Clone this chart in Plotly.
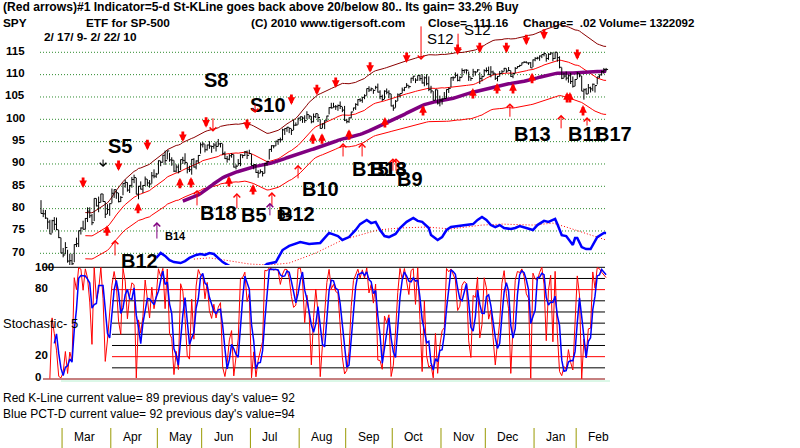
import plotly.graph_objects as go
import pandas as pd
import numpy as np

W, H = 800, 448

# ---------------- data ----------------
holidays = ["2009-04-10", "2009-05-25", "2009-07-03", "2009-09-07", "2009-11-26",
            "2009-12-25", "2010-01-01", "2010-01-18", "2010-02-15"]
dates = pd.bdate_range("2009-02-17", "2010-02-22", freq="C", holidays=holidays)

close = [
    78.92, 78.84, 77.89, 77.01, 74.33, 77.31, 76.49, 75.28, 73.51,
    70.08, 69.63, 71.29, 68.26, 68.34, 67.65, 71.96, 72.14, 75.07, 75.66, 75.39, 77.81, 79.44, 78.40, 76.85, 82.29, 80.61, 81.39, 83.29, 81.59, 78.75, 79.79,
    81.11, 83.44, 84.25, 83.55, 81.56, 82.52, 85.66, 85.87, 84.15, 85.21, 86.53, 86.96, 83.24, 85.01, 84.36, 85.19, 86.62, 85.75, 85.52, 87.36, 87.28,
    87.75, 90.72, 90.38, 91.95, 90.74, 92.92, 90.92, 90.84, 88.39, 89.31, 88.29, 90.97, 90.81, 90.35, 88.83, 88.70, 91.03, 89.31, 90.68, 91.91,
    94.29, 94.47, 93.18, 94.25, 94.01, 93.91, 94.24, 93.92, 94.49, 94.62, 92.37, 91.20, 91.07, 91.84, 92.12, 89.30, 89.51, 90.09, 92.03, 91.89, 92.72, 91.93,
    92.33, 89.64, 89.87, 88.10, 87.96, 88.27, 87.91, 90.11, 90.58, 93.27, 94.07, 94.04, 95.11, 95.46, 95.41, 97.63, 97.93, 98.22, 97.96, 97.52, 98.68, 98.75,
    100.26, 100.57, 100.27, 99.71, 101.05, 100.71, 99.44, 100.58, 101.27, 100.41, 97.97, 98.97, 99.65, 100.74, 102.61, 102.56, 102.80, 102.81, 103.10, 102.89, 102.06,
    99.80, 99.48, 100.32, 101.64, 102.54, 103.34, 104.41, 104.27, 104.93, 105.26, 106.88, 106.55, 106.83, 106.47, 107.17, 106.09, 105.08, 104.44, 106.30, 106.06, 105.71,
    102.99, 102.52, 104.05, 105.47, 105.76, 106.55, 107.15, 107.62, 107.32, 109.20, 109.66, 108.77, 109.79, 109.11, 108.14, 109.29, 107.96, 106.70, 106.34, 104.26, 106.61, 103.62,
    104.29, 104.54, 104.65, 106.66, 106.93, 109.31, 109.30, 109.85, 108.72, 109.35, 110.93, 111.03, 110.98, 109.49, 109.14, 110.62, 110.57, 111.06, 109.15, 109.56,
    110.89, 110.92, 109.99, 110.60, 110.33, 109.19, 109.60, 110.24, 110.64, 111.41, 110.79, 110.92, 109.61, 110.25, 111.41, 111.80, 112.06, 112.65, 112.78, 112.62, 112.64, 111.51,
    113.30, 113.65, 113.71, 114.17, 114.50, 114.70, 113.62, 114.57, 114.85, 113.60, 115.02, 113.80, 111.65, 109.18, 109.68, 109.22, 109.75, 108.45, 107.39,
    108.92, 110.33, 109.73, 106.31, 106.62, 105.67, 107.05, 106.81, 107.85, 107.55, 109.49, 109.95, 110.68, 111.14, 111.16,
]
high = [
    81.9, 79.8, 79.7, 77.9, 77.5, 77.5, 78.1, 78.0, 75.2,
    73.5, 71.2, 72.5, 70.8, 69.9, 69.9, 72.0, 73.5, 75.1, 75.8, 77.3, 77.9, 80.3, 80.3, 78.8, 82.3, 82.3, 82.7, 83.3, 83.3, 81.6, 81.0,
    81.2, 84.5, 84.3, 84.2, 83.5, 82.8, 85.7, 86.5, 85.9, 85.3, 87.1, 87.6, 86.9, 85.1, 86.1, 85.3, 87.2, 86.6, 86.4, 88.2, 88.8,
    88.0, 90.8, 90.7, 92.0, 93.0, 93.0, 92.5, 91.5, 90.8, 89.9, 89.9, 91.0, 91.6, 92.4, 90.3, 89.6, 91.1, 91.3, 90.8, 92.0,
    94.8, 94.9, 94.4, 94.3, 95.1, 94.1, 94.7, 95.0, 95.6, 94.7, 94.5, 92.8, 91.8, 92.2, 92.4, 92.1, 89.9, 91.1, 92.2, 92.1, 92.9, 93.0,
    93.2, 92.2, 89.9, 89.9, 88.6, 88.8, 88.4, 90.2, 90.7, 93.3, 94.2, 94.2, 95.2, 95.6, 95.9, 97.9, 98.0, 98.3, 98.2, 97.9, 99.9, 99.3,
    100.3, 100.6, 100.6, 100.9, 101.8, 101.0, 100.7, 101.3, 101.3, 101.2, 100.0, 99.1, 99.8, 100.8, 102.7, 103.7, 103.7, 103.2, 103.3, 104.0, 102.8,
    103.0, 100.0, 100.4, 101.7, 102.6, 103.6, 104.5, 104.7, 105.0, 105.6, 106.9, 107.4, 107.1, 106.7, 107.5, 108.0, 106.5, 105.5, 106.5, 106.9, 106.5,
    105.7, 103.3, 104.3, 105.8, 105.8, 107.1, 107.2, 108.1, 107.6, 109.3, 109.7, 109.2, 109.8, 110.0, 110.1, 109.6, 110.1, 109.6, 107.5, 106.3, 106.7, 106.6,
    105.3, 104.7, 106.1, 106.7, 107.1, 109.4, 109.6, 110.5, 110.2, 109.6, 111.4, 111.1, 111.2, 110.7, 109.4, 111.3, 110.8, 111.2, 110.5, 109.8,
    111.2, 111.6, 111.8, 111.9, 110.9, 110.3, 109.7, 110.8, 111.0, 111.5, 111.4, 111.7, 110.9, 110.3, 111.7, 111.9, 112.2, 112.7, 113.0, 113.0, 112.7, 112.8,
    113.4, 113.9, 114.0, 114.3, 114.5, 115.0, 114.6, 114.8, 115.0, 114.9, 115.1, 115.0, 114.1, 111.6, 110.4, 110.7, 110.0, 110.4, 109.6,
    109.0, 110.6, 110.3, 109.7, 106.9, 107.0, 107.9, 107.3, 108.0, 107.6, 109.5, 110.0, 110.9, 111.5, 111.5,
]
low = [
    78.9, 78.1, 77.7, 75.4, 74.3, 74.5, 75.2, 75.2, 73.4,
    70.0, 69.1, 69.8, 67.9, 66.7, 67.2, 68.0, 71.4, 71.4, 74.2, 75.3, 75.3, 77.0, 77.9, 76.3, 77.2, 80.5, 79.2, 81.4, 81.5, 77.9, 78.8,
    78.4, 81.2, 82.4, 82.2, 81.4, 81.5, 83.0, 84.7, 83.8, 83.5, 84.7, 85.7, 83.2, 82.1, 84.3, 83.5, 85.1, 85.0, 84.7, 85.6, 86.8,
    86.9, 87.8, 89.5, 90.3, 89.8, 91.0, 90.5, 89.6, 88.2, 88.1, 87.9, 88.6, 90.0, 89.9, 87.9, 88.2, 87.6, 89.2, 88.8, 90.1,
    92.3, 93.7, 92.6, 93.0, 93.4, 92.5, 93.4, 92.8, 93.9, 93.7, 92.0, 91.1, 90.3, 90.8, 91.4, 89.2, 88.8, 89.6, 89.5, 91.3, 91.8, 91.1,
    92.2, 89.6, 88.8, 88.0, 86.9, 87.9, 87.2, 87.9, 89.6, 91.0, 92.7, 93.5, 94.0, 94.3, 94.8, 95.3, 96.5, 97.2, 96.9, 96.5, 97.6, 98.5,
    98.8, 99.6, 99.2, 99.2, 100.0, 100.1, 99.1, 99.3, 100.3, 99.4, 97.9, 98.0, 97.8, 99.6, 101.1, 102.4, 102.6, 102.1, 101.9, 102.3, 101.6,
    99.6, 99.1, 99.2, 100.2, 101.9, 102.1, 103.0, 103.9, 103.7, 104.5, 105.3, 106.1, 106.3, 105.7, 106.7, 106.0, 104.5, 104.1, 104.5, 105.6, 104.7,
    102.9, 101.9, 102.6, 104.1, 104.9, 105.8, 106.3, 107.1, 106.9, 108.1, 108.6, 108.1, 108.6, 108.6, 108.0, 107.4, 107.6, 106.3, 105.8, 104.2, 104.3, 103.3,
    102.9, 103.3, 104.6, 104.7, 105.9, 107.2, 108.6, 109.3, 108.5, 108.5, 109.4, 110.3, 110.2, 108.6, 108.6, 109.5, 109.8, 110.6, 107.9, 108.5,
    109.6, 110.5, 109.9, 109.4, 109.9, 108.8, 108.5, 109.6, 110.2, 110.7, 110.4, 110.8, 109.5, 109.2, 110.3, 111.4, 111.7, 112.1, 112.6, 112.6, 112.2, 111.5,
    111.7, 113.0, 113.4, 113.1, 113.7, 114.1, 112.9, 113.3, 114.4, 113.0, 113.5, 112.9, 111.4, 109.0, 109.2, 108.7, 108.2, 107.9, 107.1,
    107.4, 109.0, 109.4, 106.3, 104.4, 105.6, 105.7, 106.0, 106.3, 106.0, 107.8, 109.2, 109.8, 110.2, 110.7,
]

# blue strength line (0-100 panel scale) and its red dotted average, by trading-day index
blue_idx = [52, 54, 56, 58, 60, 63, 65, 67, 70, 72, 74, 76, 78, 79, 81, 82, 90, 97, 102, 106,
            109, 112, 117, 121, 126, 128, 130, 134, 136, 139, 142, 144, 147, 149, 151, 153, 155, 157, 160, 162,
            165, 168, 170, 172, 175, 176, 179, 181, 183, 185, 188, 192, 195, 197, 199, 201, 203, 205, 207, 209,
            212, 214, 216, 219, 222, 224, 227, 229, 231, 232, 233, 235, 237, 240, 241, 242, 244, 246, 248, 250,
            251, 254, 255]
blue_val = [2.9, 4.9, 3.7, 2.0, 1.2, 0.8, 1.6, 2.9, 4.1, 4.5, 4.1, 4.9, 4.5, 3.7, 2.4, 1.2, -3.0, -3.0, 0.4, 1.2,
            6.1, 7.8, 9.4, 8.6, 9.0, 11.0, 13.1, 11.8, 10.2, 11.4, 14.3, 16.7, 18.4, 17.1, 17.6, 14.3, 11.8, 11.4, 12.7, 15.1,
            17.6, 19.2, 18.0, 17.6, 15.1, 12.2, 10.2, 11.4, 14.3, 15.5, 15.9, 16.3, 16.7, 18.4, 19.6, 18.4, 16.3, 15.5, 16.3, 15.1,
            14.7, 15.1, 15.9, 15.1, 14.3, 16.3, 18.0, 17.6, 18.4, 18.8, 16.7, 12.2, 11.8, 8.2, 11.0, 11.0, 7.3, 6.5, 6.5, 9.4,
            11.4, 13.1, 13.1]
dot_idx = [69, 76, 83, 94, 103, 112, 124, 136, 152, 162, 174, 185, 199, 208, 222, 231, 237, 245, 255]
dot_val = [2.4, 2.9, 2.0, 0.4, 0.0, 0.8, 4.9, 10.2, 14.3, 15.1, 15.5, 14.7, 16.3, 16.7, 16.3, 17.1, 15.5, 13.1, 10.2]

price_ticks = [115, 110, 105, 100, 95, 90, 85, 80, 75, 70]

# ---------------- derived series ----------------
n = len(close)
assert n == len(high) == len(low) == len(dates)
idx = list(range(n))
c = pd.Series(close)
ma21 = c.rolling(21).mean()
ma65 = c.rolling(65).mean()
upper = ma21 * 1.07
lower = ma21 * 0.93
hh = pd.Series(high).rolling(5).max()
ll = pd.Series(low).rolling(5).min()
kline = 100 * (c - ll) / (hh - ll)
pctd = kline.rolling(3).mean()

# ---------------- geometry ----------------
X0, DX = 41.0, 2.216          # pixel of first bar, pixels per bar
def xi(px):                    # pixel -> bar index (for layout decorations)
    return (px - X0) / DX
XR = [xi(0), xi(W)]
PY_TOP, PY_BOT = 20, 265
def pd_(y): return 1 - y / H
P_RANGE = [115 - (PY_BOT - 52.3) / 4.467, 115 + (52.3 - PY_TOP) / 4.467]
S_RANGE = [-(382 - 379) / 1.117, 100 + (267.3 - 262) / 1.117]

FONT = "Liberation Sans, Arial, sans-serif"

fig = go.Figure()

# bands and averages
fig.add_trace(go.Scatter(x=idx, y=upper, mode="lines", line=dict(color="#8b0000", width=1), yaxis="y"))
fig.add_trace(go.Scatter(x=idx, y=ma21, mode="lines", line=dict(color="#ff0000", width=1), yaxis="y"))
fig.add_trace(go.Scatter(x=idx, y=lower, mode="lines", line=dict(color="#ff0000", width=1), yaxis="y"))
fig.add_trace(go.Scatter(x=idx, y=ma65, mode="lines", line=dict(color="#800080", width=3.5), yaxis="y"))

# HLC bars
bx, by, tx, ty = [], [], [], []
for i in idx:
    bx += [i, i, None]; by += [low[i], high[i], None]
    tx += [i, i + 0.9, None]; ty += [close[i], close[i], None]
fig.add_trace(go.Scatter(x=bx, y=by, mode="lines", line=dict(color="black", width=1), yaxis="y"))
fig.add_trace(go.Scatter(x=tx, y=ty, mode="lines", line=dict(color="black", width=1), yaxis="y"))

# strength line overlay
fig.add_trace(go.Scatter(x=dot_idx, y=dot_val, mode="lines", line=dict(color="#ff0000", width=1, dash="1px,2px"), yaxis="y3"))
fig.add_trace(go.Scatter(x=blue_idx, y=blue_val, mode="lines", line=dict(color="#0000ff", width=2.5), yaxis="y3"))

# stochastic
fig.add_trace(go.Scatter(x=idx, y=kline, mode="lines", line=dict(color="#ff0000", width=1), yaxis="y2"))
fig.add_trace(go.Scatter(x=idx, y=pctd, mode="lines", line=dict(color="#0000ff", width=1.5), yaxis="y2"))

shapes = []
# price grid
for t in price_ticks:
    shapes.append(dict(type="line", xref="x", yref="y", x0=xi(40), x1=xi(607), y0=t, y1=t,
                       line=dict(color="#2e8b2e", width=1, dash="1px,2px"), layer="below"))
# stochastic levels
for lvl, col, start in [(100, "black", 43), (90, "black", 112), (80, "red", 112), (70, "black", 112),
                        (60, "black", 112), (50, "black", 112), (40, "black", 112), (30, "black", 112),
                        (20, "red", 112), (10, "black", 112), (0, "#8b0000", 43)]:
    shapes.append(dict(type="line", xref="x", yref="y2", x0=xi(start), x1=xi(605), y0=lvl, y1=lvl,
                       line=dict(color=col, width=1), layer="below"))
shapes.append(dict(type="line", xref="x", yref="paper", x0=xi(61), x1=xi(610), y0=pd_(381), y1=pd_(381),
                   line=dict(color="#b8f0d0", width=1)))
# month separators
month_starts = [i for i in range(1, n) if dates[i].month != dates[i - 1].month]
for ms in month_starts:
    shapes.append(dict(type="line", xref="x", yref="paper", x0=ms + 0.5, x1=ms + 0.5,
                       y0=pd_(448), y1=pd_(428), line=dict(color="#999900", width=1)))

ann = []
def txt(s, x, y, size=11.5, bold=True, anchor="left", color="black"):
    ann.append(dict(text=("<b>%s</b>" % s) if bold else s, x=x / W, y=pd_(y), xref="paper", yref="paper",
                    xanchor=anchor, yanchor="middle", showarrow=False,
                    font=dict(family=FONT, size=size, color=color)))

# headers
txt("(Red arrows)#1 Indicator=5-d St-KLine goes back above 20/below 80.. Its gain= 33.2% Buy", 1, 7, 12.1)
txt("SPY", 1, 23.5, 11.8)
txt("ETF for SP-500", 84, 23.5, 11.8)
txt("(C) 2010 www.tigersoft.com", 249, 23.5, 11.8)
txt("Close=  111.16", 426, 23.5, 11.8)
txt("Change=  .02", 521, 23.5, 11.8)
txt("Volume= 1322092", 597, 23.5, 11.5)
txt("2/ 17/ 9- 2/ 22/ 10", 42, 37.5, 11.8)

# price tick labels
for t in price_ticks:
    ann.append(dict(text="<b>%d</b>" % t, x=27 / W, y=t, xref="paper", yref="y", xanchor="right",
                    yanchor="middle", yshift=1.5, showarrow=False, font=dict(family=FONT, size=11.5, color="black")))
# stochastic labels
for s, v in [("100", 100), ("80", 81.5), ("20", 21.5), ("0", 1.8)]:
    ann.append(dict(text="<b>%s</b>" % s, x=33 / W, y=v, xref="paper", yref="y2", xanchor="left",
                    yanchor="middle", showarrow=False, font=dict(family=FONT, size=11.5, color="black")))
txt("Stochastic- 5", 1, 323, 13, bold=False)

# bottom text
txt("Red K-Line current value= 89 previous day's value= 92", 1, 398, 12, bold=False)
txt("Blue PCT-D current value= 92 previous day's value=94", 1, 414, 12, bold=False)
for ms in month_starts:
    ann.append(dict(text=dates[ms].strftime("%b"), x=ms + 0.5 + 4.5, y=pd_(437), xref="x", yref="paper",
                    xanchor="left", yanchor="middle", showarrow=False,
                    font=dict(family=FONT, size=12, color="black")))

# signal labels
for s, x, y in [("S5", 120, 145.5), ("S8", 216, 80), ("S10", 268, 104.5), ("B12", 139.5, 260.5),
                ("B18", 218, 212.5), ("B5", 254, 215), ("B12", 296, 214.5), ("B10", 320, 188.5),
                ("B9", 410, 179.5), ("B13", 532, 133.5)]:
    txt(s, x, y, 20, anchor="center")
for s, x, y in [("B15", 350, 168.5), ("B18", 368, 168.5), ("B13", 368, 168.5), ("B11", 566, 133.5), ("B17", 593, 133.5)]:
    txt(s, x, y, 20)
txt("B4", 275, 215, 12)
txt("B14", 175, 236, 11, anchor="center")
txt("S12", 440, 39, 15, bold=False, anchor="center")
txt("S12", 477.5, 30, 15, bold=False, anchor="center")

# signal arrows: (bar index, price at tip)
thick_down = [(19, 84.6), (35, 88.4), (48, 93.1), (64, 94.9), (74.5, 98.1), (93, 97.6), (113, 103.2),
              (124.5, 105.4), (133, 107.0), (148.5, 110.4), (165, 112.6), (188, 114.4), (198, 114.8),
              (210, 114.8), (219, 116.6), (227, 117.8), (242, 113.3)]
thick_up = [(29.8, 76.3), (43.8, 81.3), (62.7, 86.9), (67.7, 87.1), (84.8, 87.3), (95.7, 85.5), (122.7, 96.9),
            (126.8, 96.9), (139, 97.8), (155.2, 100.5), (172.4, 103.2), (194.9, 107.0), (205.8, 108.1),
            (213, 108.1), (221.6, 110.4), (237.4, 106.1), (238.7, 106.1), (244.6, 103.2)]
thin_up = [(33.4, 73.0, 17, "red"), (70.4, 84.2, 17, "red"), (88.4, 83.5, 17, "red"), (104.2, 83.7, 15, "red"),
           (116.0, 89.8, 15, "red"), (136.3, 94.7, 15, "red"), (144.9, 94.7, 15, "red"), (158.8, 91.3, 14, "red"),
           (160.2, 91.3, 14, "red"), (211.6, 103.6, 15, "red"), (234.7, 101.0, 15, "red"), (246.4, 100.5, 10, "red"),
           (52.3, 77.0, 18, "#800080"), (103.3, 81.3, 14, "#800080")]
thin_down = [(77.6, 97.2, 15, "red"), (96.6, 101.4, 10, "red"), (171.5, 113.3, 35, "red"),
             (188.2, 114.8, 21, "red"), (28.0, 89.3, 9, "black")]

for i, p in thick_down:
    ann.append(dict(x=i, y=p, xref="x", yref="y", ax=0, ay=-12, text="", showarrow=True, arrowhead=2,
                    arrowsize=0.55, arrowwidth=2.8, arrowcolor="#ff0000"))
for i, p in thick_up:
    ann.append(dict(x=i, y=p, xref="x", yref="y", ax=0, ay=12, text="", showarrow=True, arrowhead=2,
                    arrowsize=0.55, arrowwidth=2.8, arrowcolor="#ff0000"))
for i, p, L, col in thin_up:
    ann.append(dict(x=i, y=p, xref="x", yref="y", ax=0, ay=L, text="", showarrow=True, arrowhead=4,
                    arrowsize=1.3, arrowwidth=1, arrowcolor=col))
for i, p, L, col in thin_down:
    ann.append(dict(x=i, y=p, xref="x", yref="y", ax=0, ay=-L, text="", showarrow=True, arrowhead=4,
                    arrowsize=1.3, arrowwidth=1, arrowcolor=col))

fig.update_layout(
    width=W, height=H, autosize=False, margin=dict(l=0, r=0, t=0, b=0),
    paper_bgcolor="white", plot_bgcolor="rgba(0,0,0,0)", showlegend=False,
    xaxis=dict(range=XR, domain=[0, 1], visible=False, showgrid=False, zeroline=False, fixedrange=True),
    yaxis=dict(range=P_RANGE, domain=[pd_(PY_BOT), pd_(PY_TOP)], visible=False, showgrid=False, zeroline=False),
    yaxis3=dict(range=[0, 100], overlaying="y", visible=False, showgrid=False, zeroline=False),
    yaxis2=dict(range=S_RANGE, domain=[pd_(382), pd_(262)], anchor="x", visible=False, showgrid=False, zeroline=False),
    shapes=shapes, annotations=ann,
)
fig.write_html("out.html")
